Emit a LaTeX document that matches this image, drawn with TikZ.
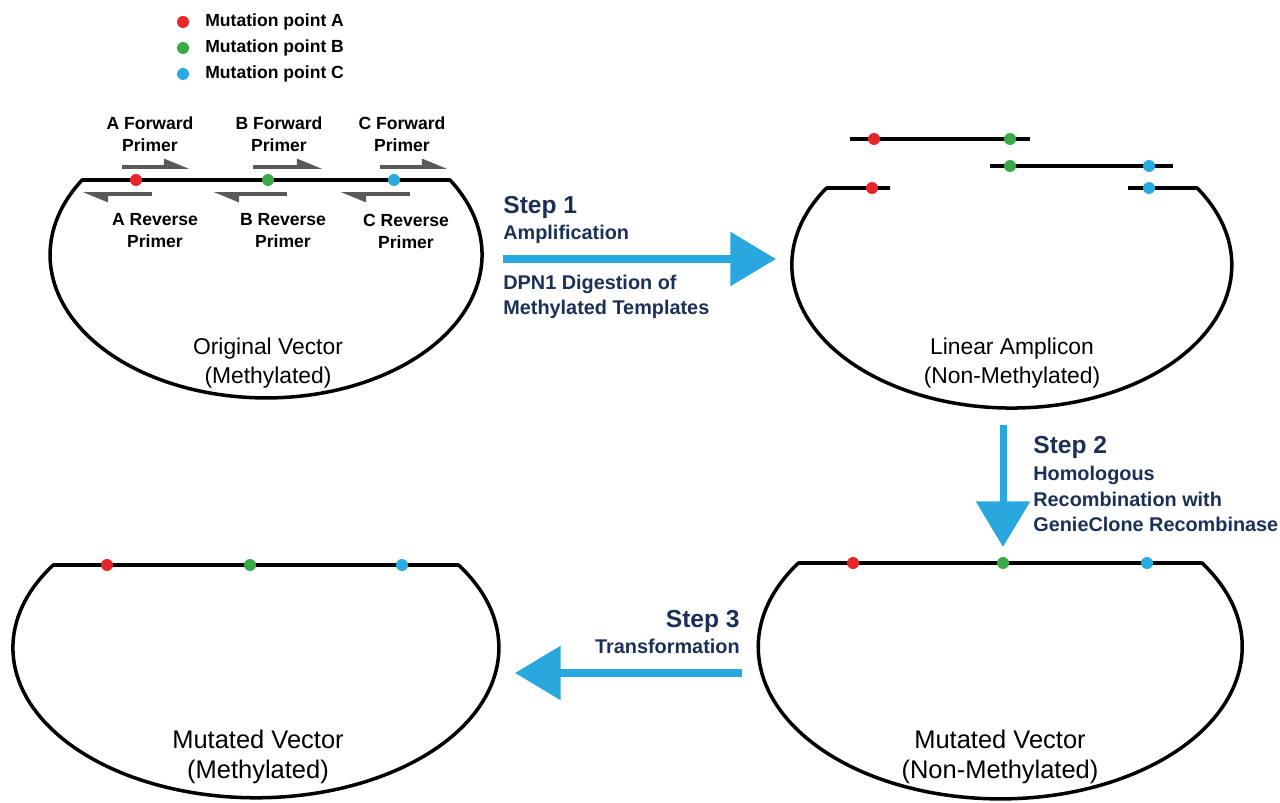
\documentclass[tikz,border=0pt]{standalone}
\usepackage{fontspec}
\setmainfont{Liberation Sans}
\usetikzlibrary{arrows.meta}

\definecolor{mutA}{HTML}{E8262A}
\definecolor{mutB}{HTML}{3AAA48}
\definecolor{mutC}{HTML}{29ABE2}
\definecolor{stepblue}{HTML}{29A8E0}
\definecolor{navy}{HTML}{1B3058}
\definecolor{primergray}{HTML}{595959}

\tikzset{
  vec/.style={line width=2pt, line join=round},
  primer/.style={line width=2.2pt, draw=primergray, -{Triangle[harpoon, length=12pt, width=9pt]}},
  steparrow/.style={line width=4pt, draw=stepblue, -{Triangle[length=26pt, width=30pt]}},
  vlabel/.style={align=center, inner sep=0pt, font=\fontsize{13}{16.5}\selectfont},
  vlabelbig/.style={align=center, inner sep=0pt, font=\fontsize{14.5}{17.5}\selectfont},
  plabel/.style={align=center, inner sep=0pt, font=\bfseries\fontsize{10}{12.5}\selectfont},
  legtext/.style={anchor=west, inner sep=0pt, font=\bfseries\fontsize{10}{12}\selectfont},
  steptitle/.style={inner sep=0pt, text=navy, font=\bfseries\fontsize{14}{16}\selectfont},
  steptext/.style={inner sep=0pt, text=navy, font=\bfseries\fontsize{11.3}{14.5}\selectfont}
}

\begin{document}
\begin{tikzpicture}[x=0.02cm, y=0.02cm]
\useasboundingbox (0,0) rectangle (1280,-803);

\fill[mutA] (183,-22) circle (6);
\fill[mutB] (183,-48) circle (6);
\fill[mutC] (183,-74) circle (6);
\node[legtext] (legA) at (205,-22) {Mutation point A};
\node[legtext] (legB) at (205,-48) {Mutation point B};
\node[legtext] (legC) at (205,-74) {Mutation point C};

\draw[vec] (82,-180) -- (450,-180) arc[start angle=31.6, end angle=-211.6, x radius=216, y radius=143] -- cycle;
\draw[primer] (122,-167) -- (190,-167);
\draw[primer] (253,-167) -- (323,-167);
\draw[primer] (380,-167) -- (448,-167);
\draw[primer] (152,-194) -- (82,-194);
\draw[primer] (287,-194) -- (213,-194);
\draw[primer] (410,-194) -- (340,-194);
\fill[mutA] (136,-180) circle (6);
\fill[mutB] (268,-180) circle (6);
\fill[mutC] (394,-180) circle (6);
\node[plabel] (afwd) at (150,-134) {A Forward\\Primer};
\node[plabel] (bfwd) at (279,-134) {B Forward\\Primer};
\node[plabel] (cfwd) at (402,-134) {C Forward\\Primer};
\node[plabel] (arev) at (155,-231) {A Reverse\\Primer};
\node[plabel] (brev) at (283,-231) {B Reverse\\Primer};
\node[plabel] (crev) at (406,-231) {C Reverse\\Primer};
\node[vlabel] (orig) at (268,-363) {Original Vector\\(Methylated)};

\coordinate (s1from) at (503,-259);
\coordinate (s1to) at (776,-259);
\draw[steparrow] (s1from) -- (s1to);
\node[steptitle, anchor=west] (s1title) at (503,-207) {Step 1};
\node[steptext, anchor=west] (s1amp) at (503,-234) {Amplification};
\node[steptext, anchor=west, align=left] (s1dpn) at (503,-297) {DPN1 Digestion of\\Methylated Templates};

\draw[vec] (850,-139) -- (1030,-139);
\draw[vec] (990,-166) -- (1173,-166);
\fill[mutA] (874,-139) circle (6);
\fill[mutB] (1010,-139) circle (6);
\fill[mutB] (1010,-166) circle (6);
\fill[mutC] (1149,-166) circle (6);
\draw[vec] (890,-188) -- (826.5,-188) arc[start angle=147.4, end angle=392.6, x radius=220, y radius=143] -- (1128,-188);
\fill[mutA] (872,-188) circle (6);
\fill[mutC] (1149,-188) circle (6);
\node[vlabel] (linear) at (1012,-363) {Linear Amplicon\\(Non-Methylated)};

\coordinate (s2from) at (1003,-425);
\coordinate (s2to) at (1003,-547);
\draw[steparrow] (s2from) -- (s2to);
\node[steptitle, anchor=west] (s2title) at (1033,-447) {Step 2};
\node[steptext, anchor=west, align=left] (s2hom) at (1033,-499) {Homologous\\Recombination with\\GenieClone Recombinase};

\draw[vec] (798,-563) -- (1202,-563) arc[start angle=33.5, end angle=-213.5, x radius=242, y radius=152] -- cycle;
\fill[mutA] (853,-563) circle (6);
\fill[mutB] (1003,-563) circle (6);
\fill[mutC] (1147,-563) circle (6);
\node[vlabelbig] (mutnon) at (1000,-757) {Mutated Vector\\(Non-Methylated)};

\coordinate (s3from) at (742,-673);
\coordinate (s3to) at (515,-673);
\draw[steparrow] (s3from) -- (s3to);
\node[steptitle, anchor=east] (s3title) at (740,-621) {Step 3};
\node[steptext, anchor=east] (s3trans) at (740,-646) {Transformation};

\draw[vec] (53.5,-565) -- (458.5,-565) arc[start angle=33.5, end angle=-213.5, x radius=243, y radius=150] -- cycle;
\fill[mutA] (107,-565) circle (6);
\fill[mutB] (250,-565) circle (6);
\fill[mutC] (402,-565) circle (6);
\node[vlabelbig] (mutmeth) at (258,-757) {Mutated Vector\\(Methylated)};
\end{tikzpicture}
\end{document}
